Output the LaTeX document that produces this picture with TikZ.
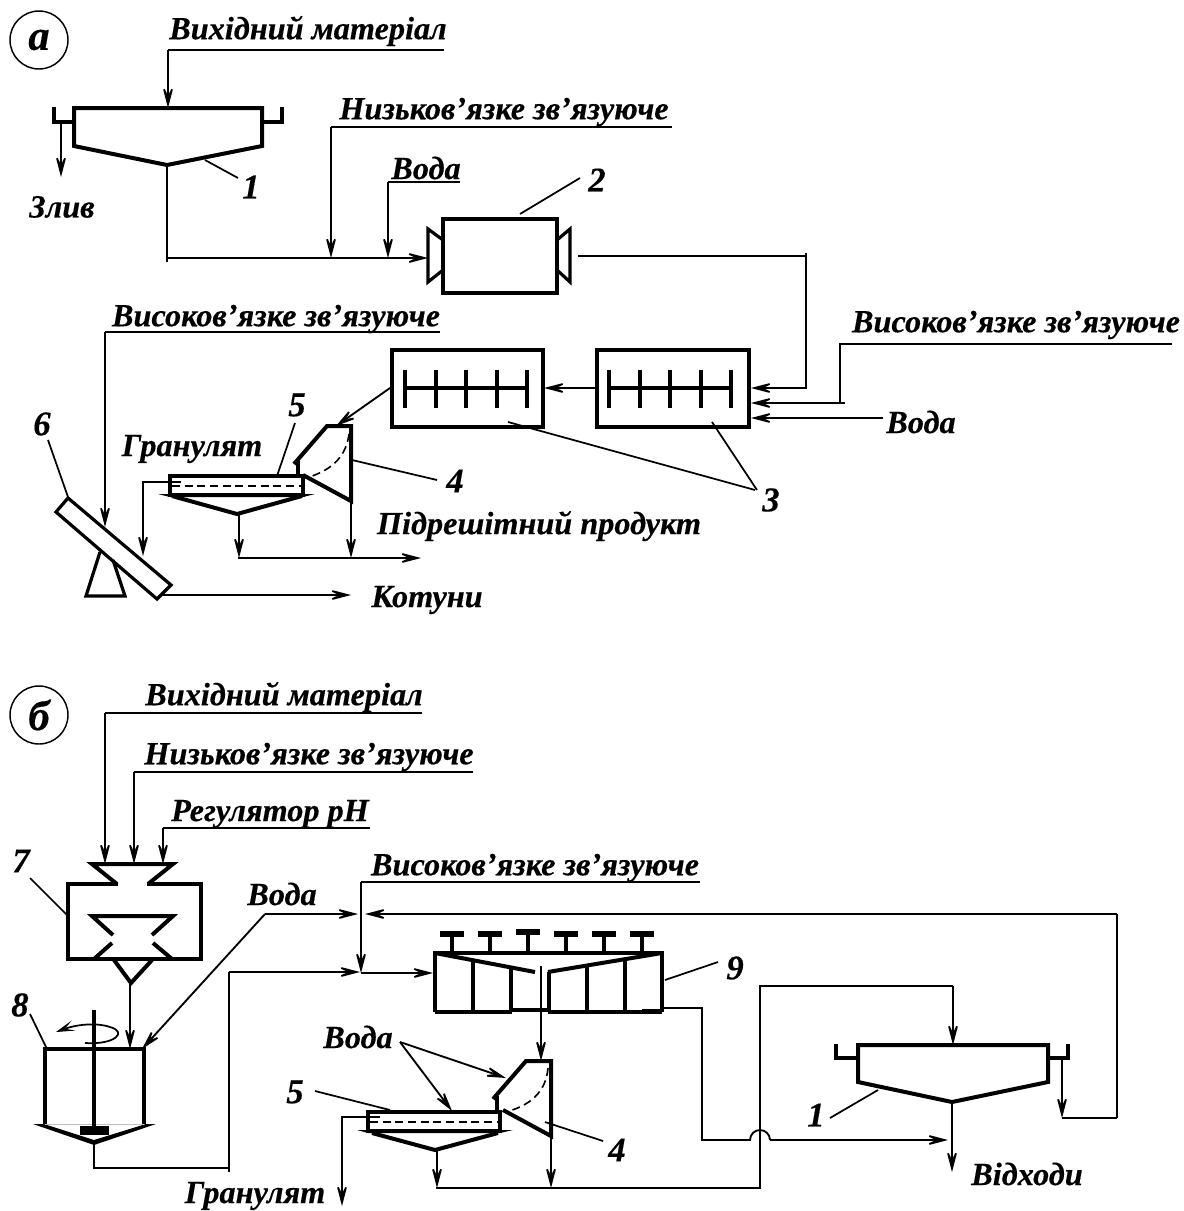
\documentclass[tikz,border=0pt]{standalone}
\usepackage{fontspec}
\setmainfont[BoldItalicFeatures={FakeBold=0.35}]{Liberation Serif}
\usetikzlibrary{arrows.meta}
\tikzset{
 lab/.style={font=\fontsize{24.2}{26}\selectfont\bfseries\itshape,inner sep=0pt,text=black,yshift=-1.5pt},
 num/.style={font=\fontsize{26}{28}\selectfont\bfseries\itshape,inner sep=0pt,text=black},
 heavy/.style={line width=3pt,line join=miter,line cap=butt},
 med/.style={line width=2.4pt,line join=miter},
 thin line/.style={line width=1.4pt},
 flow/.style={line width=1.4pt,-{Stealth[length=21pt,width=11pt,inset=12pt,line width=1.3pt]}},
 lead/.style={line width=1.3pt},
 dash line/.style={line width=1.2pt,dash pattern=on 6pt off 3.5pt},
 panel/.style={circle,draw,line width=1.1pt,minimum size=43.5pt,inner sep=0pt,font=\fontsize{32}{33}\selectfont\bfseries\itshape}
}
\begin{document}
\begin{tikzpicture}[x=0.75pt,y=-0.75pt]
\useasboundingbox (0,0) rectangle (1183,1211);
% ---------- panel a ----------
\node[panel] (pa) at (39,40) {\raisebox{-6pt}{а}};
\node[lab] (aIn) at (308,29) {Вихідний матеріал};
\node[lab] (aLow) at (504,110) {Низьков’язке зв’язуюче};
\node[lab] (aW1) at (426,166) {Вода};
\node[lab] (aHighR) at (1016,323) {Високов’язке зв’язуюче};
\node[lab] (aW2) at (921,420) {Вода};
\node[lab] (aHighL) at (276,317) {Високов’язке зв’язуюче};
\node[lab] (aGr) at (192,447) {Гранулят};
\node[lab] (aUnder) at (539,524) {Підрешітний продукт};
\node[lab] (aPel) at (427,598) {Котуни};
\node[lab] (aDrain) at (62,205) {Злив};
\node[num] (n1a) at (251,187) {1};
\node[num] (n2a) at (597,180) {2};
\node[num] (n3a) at (771,500) {3};
\node[num] (n4a) at (455,481) {4};
\node[num] (n5a) at (297,405) {5};
\node[num] (n6a) at (42,424) {6};
% named points a
\coordinate (aInA) at (444,50); \coordinate (aInB) at (168,50); \coordinate (aT1top) at (168,108);
\coordinate (aT1bot) at (167,165); \coordinate (aMain) at (167,258); \coordinate (aM2in) at (428,258);
\coordinate (aLowA) at (672,127); \coordinate (aLowB) at (331,127); \coordinate (aLowC) at (331,258);
\coordinate (aW1A) at (460,182); \coordinate (aW1B) at (388,182); \coordinate (aW1C) at (388,258);
\coordinate (aM2out) at (578,256); \coordinate (aCor) at (806,256); \coordinate (aB3a) at (751,388);
\coordinate (aHRa) at (1172,344); \coordinate (aHRb) at (840,344); \coordinate (aHRc) at (840,403); \coordinate (aB3b) at (751,403);
\coordinate (aW2a) at (883,418); \coordinate (aB3c) at (751,418);
\coordinate (aB3out) at (597,388); \coordinate (aB3in) at (544,388);
\coordinate (aB2out) at (390,388); \coordinate (aDrumIn) at (336,426);
\coordinate (aHLa) at (440,332); \coordinate (aHLb) at (105,332); \coordinate (aHLc) at (105,527);
\coordinate (aScrOut) at (181,482); \coordinate (aScrB) at (143,482); \coordinate (aScrC) at (143,556);
\coordinate (aFun) at (239,514); \coordinate (aFunB) at (239,558);
\coordinate (aDrumOut) at (351,501); \coordinate (aDrumB) at (351,558);
\coordinate (aU1) at (238,558); \coordinate (aU2) at (421,558);
\coordinate (aP1) at (163,595); \coordinate (aP2) at (351,595);
\coordinate (aDr1) at (61,122); \coordinate (aDr2) at (61,177);
% tank 1
\draw[heavy] (74,108) -- (262,108) -- (262,146) -- (167,165) -- (74,146) -- cycle;
\draw[med] (54,107) -- (54,122) -- (74,122) (262,122) -- (282,122) -- (282,107);
% mixer 2
\draw[heavy] (443,219) rectangle (557,293);
\draw[med] (443,240) -- (428,229) -- (428,282) -- (443,270);
\draw[med] (557,240) -- (570,229) -- (570,282) -- (557,270);
% boxes 3
\draw[heavy] (597,350) rectangle (749,427);
\draw[heavy] (392,350) rectangle (543,427);
\foreach \ox in {0,1}{
 \begin{scope}[xshift={\ox*204*0.75pt}]
 \draw[med] (405,388) -- (527,388);
 \foreach \vx in {405,436,466,497,527} \draw[med] (\vx,370) -- (\vx,408);
 \end{scope}}
% drum 4
\draw[heavy] (294,464) -- (327,426) -- (351,426) -- (351,501) -- (303,475);
\draw[med] (298,460) -- (298,475);
\draw[dash line] (349,434) .. controls (346,458) and (330,471) .. (306,478);
% screen 5
\draw[heavy] (170,476) rectangle (303,495);
\draw[dash line] (172,486) -- (302,486);
\fill (158,494) -- (315,494) -- (303,497) -- (170,497) -- cycle;
\draw[heavy] (172,496) -- (237,514) -- (302,496);
% pelletiser 6
\draw[med] (68,498) -- (56,512) -- (157,599) -- (171,585) -- cycle;
\draw[med] (100,552) -- (86,596) -- (125,596) -- (113,560);
% connectors a
\draw[thin line] (aInA) -- (aInB);
\draw[flow] (aInB) -- (aT1top);
\draw[thin line] (aT1bot) -- (167,262);
\draw[flow] (aMain) -- (aM2in);
\draw[flow] (aDr1) -- (aDr2);
\draw[thin line] (aLowA) -- (aLowB);
\draw[flow] (aLowB) -- (aLowC);
\draw[thin line] (aW1A) -- (aW1B);
\draw[flow] (aW1B) -- (aW1C);
\draw[thin line] (aM2out) -- (aCor);
\draw[flow] (806,253) -- (806,388) -- (aB3a);
\draw[thin line] (aHRa) -- (aHRb) -- (aHRc);
\draw[flow] (845,403) -- (aB3b);
\draw[flow] (aW2a) -- (aB3c);
\draw[flow] (aB3out) -- (aB3in);
\draw[flow] (aB2out) -- (aDrumIn);
\draw[thin line] (aHLa) -- (aHLb);
\draw[flow] (aHLb) -- (aHLc);
\draw[flow] (aScrOut) -- (aScrB) -- (aScrC);
\draw[flow] (aFun) -- (aFunB);
\draw[flow] (aDrumOut) -- (aDrumB);
\draw[flow] (aU1) -- (aU2);
\draw[flow] (aP1) -- (aP2);
% leaders a
\draw[lead] (205,160) -- (238,178);
\draw[lead] (520,214) -- (580,178);
\draw[lead] (712,422) -- (757,490);
\draw[lead] (508,422) -- (755,490);
\draw[lead] (352,460) -- (437,480);
\draw[lead] (295,423) -- (277,476);
\draw[lead] (48,440) -- (68,497);
% ---------- panel b ----------
\node[panel] (pb) at (39,715) {б};
\node[lab] (bIn) at (284,695) {Вихідний матеріал};
\node[lab] (bLow) at (309,755) {Низьков’язке зв’язуюче};
\node[lab] (bReg) at (270,812) {Регулятор рН};
\node[lab] (bHigh) at (535,866) {Високов’язке зв’язуюче};
\node[lab] (bW1) at (282,892) {Вода};
\node[lab] (bW2) at (358,1035) {Вода};
\node[lab] (bGr) at (255,1194) {Гранулят};
\node[lab] (bWaste) at (1027,1172) {Відходи};
\node[num] (n1b) at (816,1115) {1};
\node[num] (n4b) at (617,1150) {4};
\node[num] (n5b) at (295,1092) {5};
\node[num] (n7b) at (21,861) {7};
\node[num] (n8b) at (20,1005) {8};
\node[num] (n9b) at (735,968) {9};
% named points b
\coordinate (bInA) at (422,713); \coordinate (bInB) at (105,713); \coordinate (bInC) at (105,864);
\coordinate (bLowA) at (473,772); \coordinate (bLowB) at (134,772); \coordinate (bLowC) at (134,864);
\coordinate (bRegA) at (370,828); \coordinate (bRegB) at (163,828); \coordinate (bRegC) at (163,864);
\coordinate (b7out) at (130,983); \coordinate (b8in) at (130,1049);
\coordinate (bW1a) at (358,914); \coordinate (bW1b) at (265,914); \coordinate (bW1c) at (142,1049);
\coordinate (b8bot) at (94,1145); \coordinate (b8c) at (94,1168); \coordinate (b8d) at (229,1168); \coordinate (b8e) at (229,972); \coordinate (b8f) at (360,972);
\coordinate (bHa) at (700,882); \coordinate (bHb) at (361,882); \coordinate (bHc) at (361,973); \coordinate (b9in) at (433,973);
\coordinate (bRa) at (1117,1118); \coordinate (bRb) at (1117,914); \coordinate (bRc) at (365,914);
\coordinate (bLa) at (1062,1058); \coordinate (bLb) at (1062,1118);
\coordinate (b9a) at (662,1008); \coordinate (b9b) at (702,1008); \coordinate (b9c) at (702,1140); \coordinate (bH1) at (750,1140); \coordinate (bH2) at (770,1140); \coordinate (bT) at (948,1140);
\coordinate (b9d) at (541,966); \coordinate (bDrumIn) at (541,1061);
\coordinate (bWs) at (400,1042); \coordinate (bWe1) at (506,1078); \coordinate (bWe2) at (452,1111);
\coordinate (bSa) at (380,1117); \coordinate (bSb) at (342,1117); \coordinate (bSc) at (342,1206);
\coordinate (bFun) at (437,1150); \coordinate (bFunB) at (437,1188);
\coordinate (bDr) at (551,1136); \coordinate (bDrB) at (551,1188);
\coordinate (bBa) at (436,1188); \coordinate (bBb) at (760,1188); \coordinate (bBc) at (760,986); \coordinate (bBd) at (953,986); \coordinate (bBe) at (953,1045);
\coordinate (bT1) at (952,1102); \coordinate (bT2) at (952,1172);
% hopper 7
\draw[heavy] (68,884) rectangle (201,959);
\fill[white] (118,880) rectangle (147,888);
\draw[heavy] (117,884) -- (92,864) -- (173,864) -- (148,884);
\draw[heavy] (113,935) -- (92,916) -- (173,916) -- (152,935);
\draw[heavy] (112,943) -- (94,959) (153,943) -- (172,959);
\draw[heavy] (114,960) -- (131,983) -- (152,960);
% mixer 8
\draw[heavy] (45,1124) -- (45,1049) -- (144,1049) -- (144,1124);
\fill (33,1124) -- (94,1145) -- (156,1124) -- (146,1124) -- (94,1140) -- (44,1124) -- cycle;
\draw[line width=0.5pt,gray!50] (45,1124) -- (144,1124);
\draw[line width=2.8pt] (94,1010) -- (94,1127);
\fill (80,1126) rectangle (109,1135);
\draw[line width=1.3pt,-{Stealth[length=14pt,width=8pt,inset=7pt,line width=0.9pt]}] (85,1043) .. controls (115,1045) and (128,1032) .. (110,1027) .. controls (95,1022) and (75,1025) .. (56,1032);
% thickener 9
\draw[heavy] (435,1012) -- (435,953) -- (662,953) -- (662,1012);
\draw[heavy] (435,1012) -- (512,1012) (548,1012) -- (662,1012);
\draw[med] (510,1010) -- (550,1010);
\draw[heavy] (435,953) -- (535,972) (548,972) -- (662,953);
\draw[heavy] (473,962) -- (473,1012) (511,969) -- (511,1012) (549,972) -- (549,1012) (587,966) -- (587,1012) (625,959) -- (625,1012);
\foreach \sx/\sy in {452/934,490/934,528/932,566/934,604/934,642/934}{
 \draw[line width=2.6pt] (\sx,\sy) -- (\sx,953);
 \draw[line width=4pt] (\sx-12,\sy) -- (\sx+12,\sy);}
% tank 1 b
\draw[heavy] (858,1045) -- (1048,1045) -- (1048,1082) -- (952,1102) -- (858,1082) -- cycle;
\draw[med] (836,1044) -- (836,1058) -- (858,1058) (1048,1058) -- (1068,1058) -- (1068,1044);
% drum 4 b
\draw[heavy] (493,1099) -- (526,1061) -- (551,1061) -- (551,1136) -- (503,1110);
\draw[med] (497,1096) -- (497,1111);
\draw[dash line] (548,1068) .. controls (546,1092) and (530,1106) .. (505,1112);
% screen 5 b
\draw[heavy] (368,1112) rectangle (500,1131);
\draw[dash line] (370,1122) -- (498,1122);
\fill (357,1130) -- (513,1130) -- (500,1133) -- (368,1133) -- cycle;
\draw[heavy] (372,1133) -- (435,1150) -- (498,1133);
% connectors b
\draw[thin line] (bInA) -- (bInB);
\draw[flow] (bInB) -- (bInC);
\draw[thin line] (bLowA) -- (bLowB);
\draw[flow] (bLowB) -- (bLowC);
\draw[thin line] (bRegA) -- (bRegB);
\draw[flow] (bRegB) -- (bRegC);
\draw[flow] (b7out) -- (b8in);
\draw[flow] (bW1b) -- (bW1a);
\draw[flow] (bW1b) -- (bW1c);
\draw[thin line] (b8bot) -- (b8c) -- (b8d);
\draw[thin line] (229,1172) -- (b8e);
\draw[flow] (b8e) -- (b8f);
\draw[thin line] (bHa) -- (bHb);
\draw[flow] (bHb) -- (bHc);
\draw[flow] (bHc) -- (b9in);
\draw[thin line] (bRa) -- (bRb);
\draw[flow] (bRb) -- (bRc);
\draw[flow] (bLa) -- (bLb);
\draw[thin line] (bLb) -- (bRa);
\draw[heavy] (642,1011) -- (662,1011);
\draw[thin line] (b9a) -- (b9b) -- (b9c) -- (bH1) arc[start angle=180,end angle=0,radius=7.5pt];
\draw[flow] (bH2) -- (bT);
\draw[flow] (b9d) -- (bDrumIn);
\draw[flow] (bWs) -- (bWe1);
\draw[flow] (bWs) -- (bWe2);
\draw[flow] (bSa) -- (bSb) -- (bSc);
\draw[flow] (bFun) -- (bFunB);
\draw[flow] (bDr) -- (bDrB);
\draw[thin line] (bBa) -- (bBb) -- (bBc) -- (bBd);
\draw[flow] (bBd) -- (bBe);
\draw[flow] (bT1) -- (bT2);
% leaders b
\draw[lead] (30,878) -- (67,915);
\draw[lead] (30,1014) -- (47,1049);
\draw[lead] (665,980) -- (718,962);
\draw[lead] (878,1090) -- (830,1118);
\draw[lead] (315,1091) -- (390,1110);
\draw[lead] (545,1122) -- (603,1141);
\end{tikzpicture}
\end{document}
